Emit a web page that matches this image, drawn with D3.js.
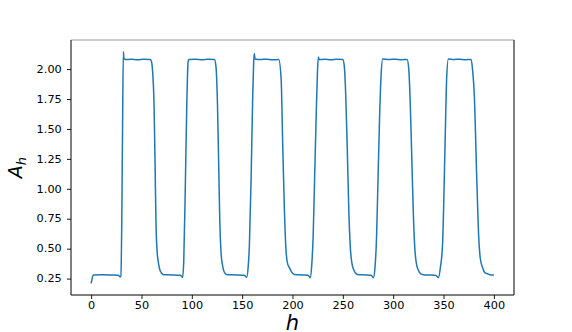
<!DOCTYPE html>
<html>
<head>
<meta charset="utf-8">
<script src="https://cdn.jsdelivr.net/npm/d3@7"></script>
<style>
  body { margin: 0; background: #fff; }
  text { font-family: "DejaVu Sans", sans-serif; }
</style>
</head>
<body>
<svg id="chart"></svg>
<script>
// values (h, A_h)
let hs = [
  0, 1, 2, 10, 20, 27, 28.6, 29.5, 30.4, 31.2, 32, 32.6, 34, 40, 46, 52, 58.8,
  60, 61.3, 62.5, 63.5, 64.5, 65.5, 66.5, 68, 70, 72, 80, 88.5,
  90.9, 92, 93.5, 95, 96.3, 97, 104, 110, 116, 122.5,
  124, 125.5, 126.7, 127.8, 129, 130.5, 132.5, 135, 145, 152,
  154.5, 156, 157.2, 158.9, 160.5, 161.4, 162, 162.8, 168, 174, 180, 186.3,
  188.7, 190.3, 192, 193.6, 195, 197, 199.5, 202, 210, 215.5,
  217.5, 219, 220.5, 222, 223.5, 224.8, 225.7, 226.5, 232, 238, 244, 250,
  251.5, 253, 254.5, 256, 257.5, 259, 261, 263.5, 266, 272, 278,
  280.3, 282, 283.5, 285, 286.5, 288, 289.6, 296, 302, 308, 313.8,
  315.5, 317, 318.5, 320, 321.5, 323, 325, 327.5, 330, 336, 342.5,
  344.9, 347, 349, 351.5, 353.1, 354.8, 360, 366, 372, 377.4,
  378.8, 380.6, 383, 385, 386.5, 388.9, 391, 393.8, 396, 400
];
let ah = [
  0.21, 0.25, 0.281, 0.282, 0.281, 0.279, 0.265, 0.27, 0.7, 1.5, 2.145, 2.09, 2.08, 2.082, 2.078, 2.083, 2.08,
  2.06, 1.95, 1.7, 1.2, 0.68, 0.48, 0.4, 0.33, 0.295, 0.283, 0.281, 0.278,
  0.262, 0.4, 1.0, 1.7, 2.06, 2.08, 2.083, 2.079, 2.082, 2.08,
  2.02, 1.7, 1.2, 0.72, 0.47, 0.36, 0.3, 0.283, 0.281, 0.278,
  0.262, 0.35, 0.53, 1.09, 1.78, 2.05, 2.13, 2.085, 2.08, 2.083, 2.078, 2.08,
  1.92, 1.36, 0.81, 0.48, 0.38, 0.34, 0.3, 0.285, 0.281, 0.278,
  0.258, 0.35, 0.6, 1.1, 1.6, 1.98, 2.1, 2.08, 2.082, 2.078, 2.083, 2.08,
  2.02, 1.75, 1.3, 0.8, 0.5, 0.38, 0.32, 0.29, 0.283, 0.281, 0.278,
  0.258, 0.35, 0.6, 1.1, 1.6, 1.95, 2.085, 2.08, 2.083, 2.079, 2.08,
  2.0, 1.7, 1.25, 0.8, 0.5, 0.38, 0.32, 0.29, 0.283, 0.28, 0.276,
  0.258, 0.35, 0.53, 1.36, 1.92, 2.085, 2.08, 2.083, 2.079, 2.08,
  2.0, 1.78, 1.09, 0.59, 0.42, 0.34, 0.3, 0.29, 0.283, 0.28
];
let xTicks = [0, 50, 100, 150, 200, 250, 300, 350, 400];
let yTicks = [0.25, 0.5, 0.75, 1.0, 1.25, 1.5, 1.75, 2.0];

let width = 572;
let height = 332;
let plotLeft = 71, plotRight = 514, plotTop = 40, plotBottom = 295;
let stretch = 1.13; // tick labels look a bit wider than tall

let data = hs.map((h, i) => ({ h: h, a: ah[i] }));

let svg = d3.select("#chart")
    .attr("width", width)
    .attr("height", height);

let scaleX = d3.scaleLinear().domain([-20, 420]).range([plotLeft, plotRight]);
let scaleY = d3.scaleLinear().domain([0.113, 2.243]).range([plotBottom, plotTop]);

let axisX = d3.axisBottom(scaleX).tickValues(xTicks).tickSize(4).tickPadding(3);
let axisY = d3.axisLeft(scaleY).tickValues(yTicks).tickSize(4).tickPadding(3)
    .tickFormat(d3.format(".2f"));

let gx = svg.append("g")
    .attr("transform", `translate(0, ${plotBottom})`)
    .call(axisX);
let gy = svg.append("g")
    .attr("transform", `translate(${plotLeft}, 0)`)
    .call(axisY);

[gx, gy].forEach(g => {
    g.select(".domain").remove();
    g.selectAll(".tick line").attr("stroke", "#000").attr("stroke-width", 0.9);
    g.selectAll(".tick text")
        .attr("fill", "#000")
        .attr("font-size", "10px")
        .attr("font-family", "DejaVu Sans");
});
gx.selectAll(".tick text")
    .attr("transform", `scale(${stretch},1)`);
gy.selectAll(".tick text")
    .attr("x", -8.2)
    .attr("transform", `scale(${stretch},1)`);

// the line
let line = d3.line()
    .curve(d3.curveMonotoneX)
    .x(d => scaleX(d.h))
    .y(d => scaleY(d.a));

svg.append("path")
    .datum(data)
    .attr("fill", "none")
    .attr("stroke", "#1f77b4")
    .attr("stroke-width", 1.5)
    .attr("stroke-linejoin", "round")
    .attr("d", line);

// spines
svg.append("line")
    .attr("x1", plotLeft).attr("x2", plotRight).attr("y1", plotTop).attr("y2", plotTop)
    .attr("stroke", "#999").attr("stroke-width", 1);
svg.append("line")
    .attr("x1", plotLeft).attr("x2", plotRight).attr("y1", plotBottom).attr("y2", plotBottom)
    .attr("stroke", "#000").attr("stroke-width", 1);
svg.append("line")
    .attr("x1", plotLeft).attr("x2", plotLeft).attr("y1", plotTop).attr("y2", plotBottom)
    .attr("stroke", "#000").attr("stroke-width", 1);
svg.append("line")
    .attr("x1", plotRight).attr("x2", plotRight).attr("y1", plotTop).attr("y2", plotBottom)
    .attr("stroke", "#000").attr("stroke-width", 1);

// axis labels
svg.append("text")
    .attr("transform", `translate(${(plotLeft + plotRight) / 2}, 330)`)
    .attr("text-anchor", "middle")
    .attr("font-size", "21px")
    .attr("font-style", "italic")
    .text("h");

let yLabel = svg.append("text")
    .attr("transform", `translate(22, ${(plotTop + plotBottom) / 2}) rotate(-90)`)
    .attr("text-anchor", "middle")
    .attr("font-size", "19px")
    .attr("font-style", "italic");
yLabel.append("tspan").text("A");
yLabel.append("tspan")
    .attr("font-size", "13px")
    .attr("dy", 4)
    .text("h");
</script>
</body>
</html>
